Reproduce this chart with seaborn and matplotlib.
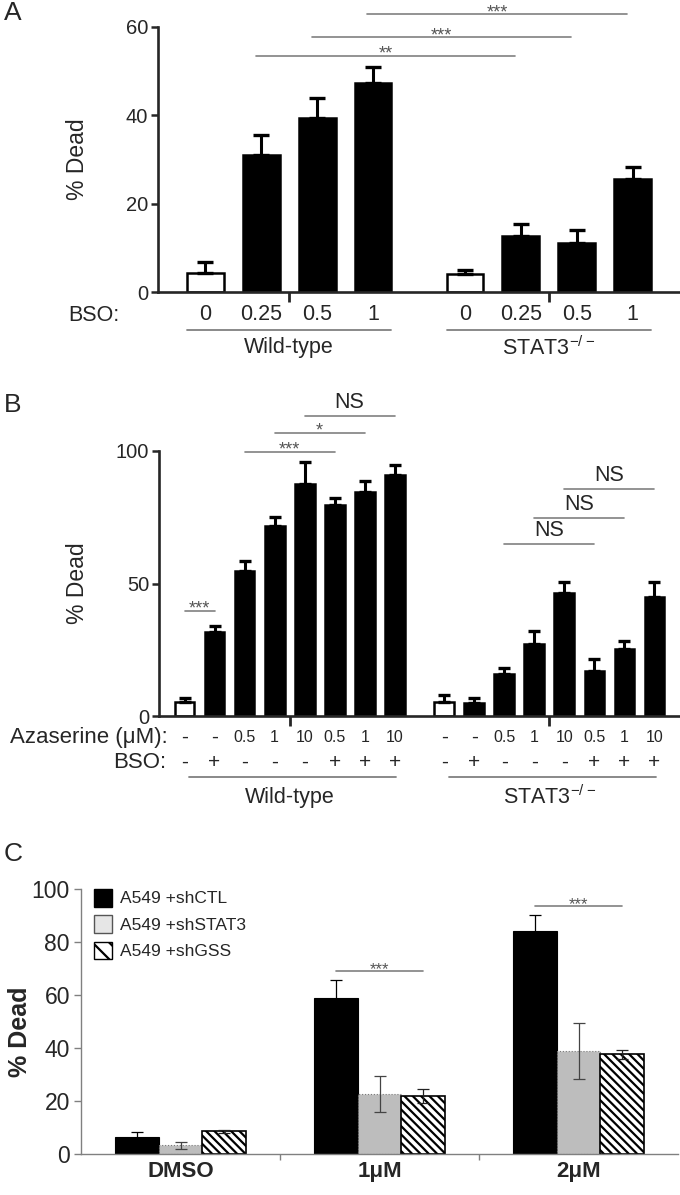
import numpy as np
import pandas as pd
import matplotlib
matplotlib.use("Agg")
import matplotlib.pyplot as plt
import seaborn as sns
from matplotlib import font_manager
from matplotlib.patches import Patch

# ---------------- data ----------------
# panel A: BSO dose response
a_doses = ["0", "0.25", "0.5", "1"]
a_groups = ["Wild-type", "STAT3$^{\\mathregular{-/-}}$"]
a_wt_mean = [4.2, 31.0, 39.5, 47.3]
a_wt_err = [2.7, 4.6, 4.4, 3.7]
a_ko_mean = [4.0, 12.6, 11.2, 25.5]
a_ko_err = [1.0, 2.8, 2.9, 2.8]
# (bar i, bar j, height, label)
a_sig = [(1, 5, 53.5, "**"), (2, 6, 57.7, "***"), (3, 7, 62.9, "***")]

# panel B: azaserine +/- BSO
b_aza = ["-", "-", "0.5", "1", "10", "0.5", "1", "10"]
b_bso = ["-", "+", "-", "-", "-", "+", "+", "+"]
b_wt_mean = [5.4, 31.8, 54.6, 71.7, 87.4, 79.5, 84.6, 91.1]
b_wt_err = [1.5, 2.3, 4.0, 3.3, 8.3, 2.8, 4.2, 3.8]
b_ko_mean = [5.4, 5.0, 15.8, 27.0, 46.5, 17.1, 25.3, 45.0]
b_ko_err = [2.5, 1.9, 2.4, 5.2, 4.2, 4.5, 3.1, 5.4]
b_sig = [(0, 1, 39.7, "***"), (2, 5, 99.7, "***"), (3, 6, 106.8, "*"),
         (4, 7, 113.3, "NS"), (10, 13, 64.8, "NS"), (11, 14, 74.8, "NS"),
         (12, 15, 85.7, "NS")]

# panel C: A549 knockdowns
c_treat = ["DMSO", "1\u03bcM", "2\u03bcM"]
c_lines = ["A549 +shCTL", "A549 +shSTAT3", "A549 +shGSS"]
c_ctl_mean = [6.6, 58.8, 84.3]
c_ctl_err = [1.6, 7.0, 6.0]
c_stat3_mean = [3.3, 22.6, 39.0]
c_stat3_err = [1.4, 6.8, 10.6]
c_gss_mean = [8.6, 21.9, 37.7]
c_gss_err = [0.6, 2.6, 1.7]
c_sig = [(1, 69.0, "***"), (2, 93.6, "***")]

# ---------------- style ----------------
sns.set_style("ticks")
names = {f.name for f in font_manager.fontManager.ttflist}
NARROW = "Liberation Sans Narrow" if "Liberation Sans Narrow" in names else "Liberation Sans"
plt.rcParams["font.family"] = ["Liberation Sans", "DejaVu Sans"]
plt.rcParams["hatch.linewidth"] = 1.6

W, H = 680, 1195
fig = plt.figure(figsize=(W / 100, H / 100), dpi=100)


def px_axes(left, top, right, bottom):
    return fig.add_axes([left / W, 1 - bottom / H, (right - left) / W, (bottom - top) / H])


def bar_panel(ax, wt_mean, wt_err, ko_mean, ko_err, gap, ymax, capsize):
    n = len(wt_mean)
    pos = list(range(n)) + [n + gap + i for i in range(n)]
    df = pd.DataFrame({
        "pos": pos,
        "mean": wt_mean + ko_mean,
        "kind": (["open"] + ["filled"] * (n - 1)) * 2,
    })
    sns.barplot(data=df, x="pos", y="mean", hue="kind", native_scale=True,
                palette={"open": "white", "filled": "black"}, width=0.66,
                edgecolor="black", linewidth=1.8, errorbar=None, legend=False, ax=ax)
    err = wt_err + ko_err
    ax.errorbar(df["pos"], df["mean"], yerr=[np.zeros(len(err)), err], fmt="none",
                ecolor="black", elinewidth=2.2, capsize=capsize, capthick=2.4, zorder=3)
    ax.set_ylim(0, ymax)
    ax.set_xlim(-0.85, pos[-1] + 0.85)
    ax.set_xlabel("")
    for s in ["top", "right"]:
        ax.spines[s].set_visible(False)
    for s in ["left", "bottom"]:
        ax.spines[s].set_linewidth(1.9)
    centers = [np.mean(pos[:n]), np.mean(pos[n:])]
    ax.set_xticks(centers)
    ax.set_xticklabels(["", ""])
    ax.tick_params(axis="x", length=7, width=2)
    ax.tick_params(axis="y", length=5, width=1.8, labelsize=14.5, pad=2)
    ax.set_ylabel("% Dead", fontsize=16.5)
    return pos, centers


def sig_line(ax, x0, x1, y, label, size, color="#555555"):
    ax.plot([x0, x1], [y, y], color="#808080", lw=1.2, clip_on=False)
    if label == "NS":
        ax.annotate(label, (0.5 * (x0 + x1), y), xytext=(0, 3), textcoords="offset pixels",
                    ha="center", va="bottom", fontsize=15.5, family=NARROW, annotation_clip=False)
    else:
        ax.annotate(label, (0.5 * (x0 + x1), y), xytext=(0, -3), textcoords="offset pixels",
                    ha="center", va="baseline", fontsize=size, color=color, annotation_clip=False)


def under_text(ax, x, dy, text, size, **kw):
    ax.annotate(text, (x, 0), xycoords=("data", "axes fraction"), xytext=(0, dy),
                textcoords="offset pixels", ha="center", va="center", fontsize=size,
                family=NARROW, annotation_clip=False, **kw)


def group_line(ax, x0, x1, dy):
    y = dy / ax.bbox.height
    ax.plot([x0, x1], [y, y], transform=ax.get_xaxis_transform(), color="#808080",
            lw=1.3, clip_on=False)


# ---------------- panel A ----------------
axA = px_axes(158, 27, 680, 292)
posA, cenA = bar_panel(axA, a_wt_mean, a_wt_err, a_ko_mean, a_ko_err, 0.65, 60, 6)
axA.set_yticks([0, 20, 40, 60])
axA.yaxis.set_label_coords(-0.132, 0.5)
for i, j, y, lab in a_sig:
    sig_line(axA, posA[i] - 0.1, posA[j] - 0.1, y, lab, 13)
for k, p in enumerate(posA):
    under_text(axA, p, -23, a_doses[k % 4], 15.5)
fig.text(94 / W, 1 - 315 / H, "BSO:", ha="center", va="center", fontsize=15.5, family=NARROW)
for g in range(2):
    group_line(axA, posA[4 * g] - 0.33, posA[4 * g + 3] + 0.33, -38)
    under_text(axA, cenA[g], -56, a_groups[g], 15.5)

# ---------------- panel B ----------------
axB = px_axes(159, 451, 680, 716)
posB, cenB = bar_panel(axB, b_wt_mean, b_wt_err, b_ko_mean, b_ko_err, 0.65, 100, 4.5)
axB.set_yticks([0, 50, 100])
axB.yaxis.set_label_coords(-0.134, 0.5)
for i, j, y, lab in b_sig:
    sig_line(axB, posB[i], posB[j], y, lab, 13)
for k, p in enumerate(posB):
    aza = b_aza[k % 8]
    under_text(axB, p, -21, aza, 15 if aza == "-" else 11.5)
    under_text(axB, p, -46, b_bso[k % 8], 15)
fig.text(168 / W, 1 - 737 / H, "Azaserine (\u03bcM):", ha="right", va="center", fontsize=16, family=NARROW)
fig.text(166 / W, 1 - 762 / H, "BSO:", ha="right", va="center", fontsize=16, family=NARROW)
for g in range(2):
    group_line(axB, posB[8 * g] + 0.15, posB[8 * g + 7] + 0.05, -61)
    under_text(axB, cenB[g], -81, a_groups[g], 15.5)

# ---------------- panel C ----------------
axC = px_axes(81, 889, 678, 1154)
dfc = pd.DataFrame({
    "treat": c_treat * 3,
    "line": [c_lines[0]] * 3 + [c_lines[1]] * 3 + [c_lines[2]] * 3,
    "mean": c_ctl_mean + c_stat3_mean + c_gss_mean,
})
sns.barplot(data=dfc, x="treat", y="mean", hue="line", order=c_treat, hue_order=c_lines,
            palette=["black", "#bdbdbd", "white"], width=0.66, errorbar=None,
            legend=False, ax=axC)
bar_conts = list(axC.containers)
errs = [c_ctl_err, c_stat3_err, c_gss_err]
means = [c_ctl_mean, c_stat3_mean, c_gss_mean]
ecolors = ["black", "#444444", "#222222"]
for k, cont in enumerate(bar_conts):
    xs = [b.get_x() + b.get_width() / 2 for b in cont]
    for b in cont:
        if k == 0:
            b.set_edgecolor("black")
            b.set_linewidth(0.8)
        elif k == 1:
            b.set_edgecolor("#7a7a7a")
            b.set_linewidth(0.8)
            b.set_linestyle(":")
        else:
            b.set_edgecolor("black")
            b.set_linewidth(1.2)
            b.set_hatch("\\\\\\\\")
    axC.errorbar(xs, means[k], yerr=errs[k], fmt="none", ecolor=ecolors[k],
                 elinewidth=0.9, capsize=4, capthick=0.9, zorder=3)
for i, y, lab in c_sig:
    b0 = bar_conts[0][i]
    b2 = bar_conts[2][i]
    x0 = b0.get_x() + b0.get_width() / 2
    x1 = b2.get_x() + b2.get_width() / 2
    sig_line(axC, x0, x1, y, lab, 12)
axC.set_xlim(-0.5, 2.5)
axC.set_ylim(0, 100)
axC.set_yticks([0, 20, 40, 60, 80, 100])
axC.set_xticks([0, 1, 2])
axC.set_xticklabels(c_treat, fontsize=16, family=NARROW, fontweight="bold")
axC.set_xticks([0.5, 1.5], minor=True)
axC.tick_params(axis="x", which="major", length=0, pad=5)
axC.tick_params(axis="x", which="minor", length=4, width=1, color="#808080")
axC.tick_params(axis="y", length=5, width=1, color="#808080", labelsize=16.5, pad=3)
for lab in axC.get_yticklabels():
    lab.set_family(NARROW)
for s in ["top", "right"]:
    axC.spines[s].set_visible(False)
for s in ["left", "bottom"]:
    axC.spines[s].set_color("#808080")
    axC.spines[s].set_linewidth(1.0)
axC.set_xlabel("")
axC.set_ylabel("% Dead", fontsize=18, family=NARROW, fontweight="bold")
axC.yaxis.set_label_coords(-0.082, 0.46)
handles = [Patch(facecolor="black", edgecolor="black"),
           Patch(facecolor="#e6e6e6", edgecolor="#555555"),
           Patch(facecolor="white", edgecolor="black", hatch="\\\\")]
axC.legend(handles, c_lines, loc="upper left", bbox_to_anchor=(-0.004, 1.06), frameon=False,
           fontsize=12.5, handlelength=1.0, handleheight=1.2, labelspacing=0.5,
           handletextpad=0.5)

# panel letters
for letter, y in [("A", 13), ("B", 405), ("C", 854)]:
    fig.text(4 / W, 1 - y / H, letter, ha="left", va="center", fontsize=19)

fig.savefig("out.png", dpi=100)
